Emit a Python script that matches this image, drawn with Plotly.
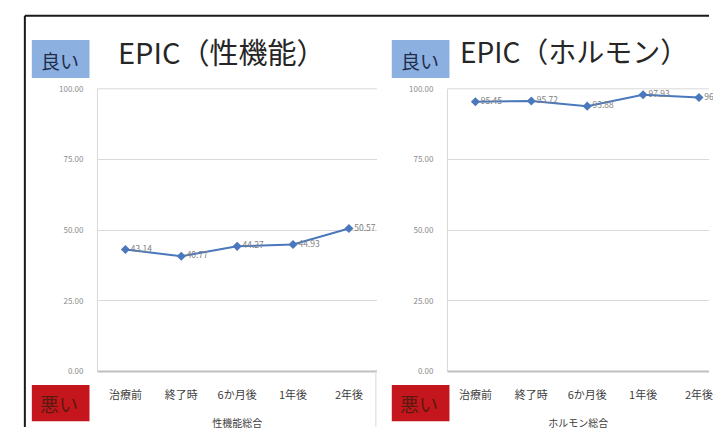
import plotly.graph_objects as go

W, H = 713, 432
categories = ["治療前", "終了時", "6か月後", "1年後", "2年後"]
sexual_values = [43.14, 40.77, 44.27, 44.93, 50.57]
hormone_values = [95.45, 95.72, 93.88, 97.93, 96.93]
y_ticks = [0, 25, 50, 75, 100]
titles = ["EPIC（性機能）", "EPIC（ホルモン）"]
x_titles = ["性機能総合", "ホルモン総合"]

FONT = "Noto Sans CJK JP"
LINE = "#4a78bd"
GRID = "#d9d9d9"

def px(x):
    return x / W

def py(y):
    return 1 - y / H

fig = go.Figure()
for i, vals in enumerate([sexual_values, hormone_values]):
    sfx = "" if i == 0 else "2"
    fig.add_trace(go.Scatter(
        x=categories, y=vals, mode="lines+markers+text",
        text=[f"{v:.2f}" for v in vals], textposition="middle right",
        textfont=dict(size=8.5, color="#808080", family=FONT),
        line=dict(color=LINE, width=2),
        marker=dict(symbol="diamond", size=7, color=LINE),
        xaxis="x" + sfx, yaxis="y" + sfx, cliponaxis=False, showlegend=False,
    ))

ydom = [py(375), py(85)]
xdoms = [[px(98), px(379)], [px(450), 1.0]]
ranges = [[-0.5, 4.5], [-0.5, -0.5 + 263 / 56.2]]
layout = dict(
    width=W, height=H, margin=dict(l=0, r=0, t=0, b=0),
    paper_bgcolor="white", plot_bgcolor="white",
    font=dict(family=FONT),
)
for i in range(2):
    sfx = "" if i == 0 else "2"
    layout["xaxis" + sfx] = dict(
        domain=xdoms[i], anchor="y" + sfx, type="category", range=ranges[i],
        showgrid=False, zeroline=False, showline=False, ticks="",
        tickfont=dict(size=11, color="#404040", family=FONT),
        ticklabelstandoff=16,
        title=dict(text=x_titles[i], font=dict(size=10, color="#404040", family=FONT), standoff=18),
    )
    layout["yaxis" + sfx] = dict(
        domain=ydom, anchor="x" + sfx, range=[0, 100], tickvals=y_ticks,
        tickformat=".2f", showgrid=True, gridcolor=GRID, gridwidth=1,
        zeroline=False, showline=False, ticks="",
        tickfont=dict(size=8, color="#8c8c8c", family=FONT),
        ticklabelstandoff=13,
    )
fig.update_layout(**layout)

shapes = []
shapes.append(dict(type="line", xref="paper", yref="paper", x0=px(25), x1=px(25), y0=py(10), y1=0,
                   line=dict(color="#1a1a1a", width=2)))
shapes.append(dict(type="line", xref="paper", yref="paper", x0=px(25), x1=1, y0=py(10), y1=py(10),
                   line=dict(color="#1a1a1a", width=2)))
for i in range(2):
    x0, x1 = xdoms[i]
    shapes.append(dict(type="line", xref="paper", yref="paper", x0=x0, x1=x0, y0=ydom[0], y1=ydom[1],
                       line=dict(color=GRID, width=1)))
    shapes.append(dict(type="line", xref="paper", yref="paper", x0=x0, x1=x1, y0=ydom[1], y1=ydom[1],
                       line=dict(color=GRID, width=1)))
    shapes.append(dict(type="line", xref="paper", yref="paper", x0=x0, x1=x1, y0=ydom[0], y1=ydom[0],
                       line=dict(color="#bfbfbf", width=2)))
shapes.append(dict(type="line", xref="paper", yref="paper", x0=px(378), x1=px(378), y0=py(373), y1=0,
                   line=dict(color=GRID, width=1)))

annotations = []
box_x = [(32, 90), (394, 452)]
title_x = [223, 577]
title_size = [29, 28]
for i in range(2):
    bx0, bx1 = box_x[i]
    shapes.append(dict(type="rect", xref="paper", yref="paper", x0=px(bx0), x1=px(bx1), y0=py(74), y1=py(35),
                       fillcolor="#8cb0e0", line=dict(width=0), layer="below"))
    shapes.append(dict(type="rect", xref="paper", yref="paper", x0=px(bx0), x1=px(bx1), y0=py(426), y1=py(389),
                       fillcolor="#c4161c", line=dict(width=0), layer="below"))
    annotations.append(dict(text="良い", xref="paper", yref="paper", x=px((bx0 + bx1) / 2 - 1), y=py(56),
                            xanchor="center", yanchor="middle",
                            showarrow=False, font=dict(size=19, color="#1f2d4d", family=FONT)))
    annotations.append(dict(text="悪い", xref="paper", yref="paper", x=px((bx0 + bx1) / 2 - 2), y=py(408),
                            xanchor="center", yanchor="middle",
                            showarrow=False, font=dict(size=19, color="#5a1a10", family=FONT)))
    annotations.append(dict(text=titles[i], xref="paper", yref="paper", x=px(title_x[i]), y=py(46),
                            xanchor="center", yanchor="middle",
                            showarrow=False, font=dict(size=title_size[i], color="#262626", family=FONT)))
fig.update_layout(shapes=shapes, annotations=annotations)

fig.write_html("out.html")
